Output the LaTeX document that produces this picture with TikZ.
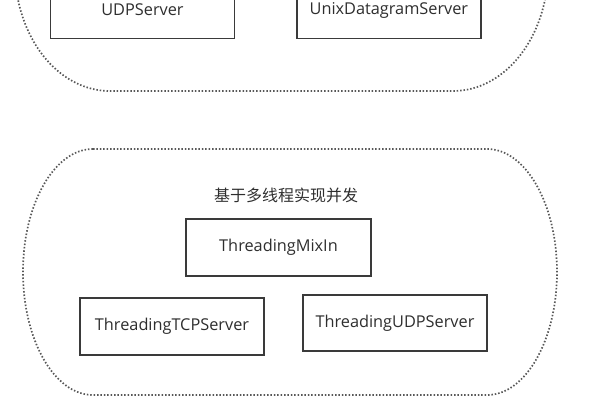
\documentclass[tikz,border=0pt]{standalone}
\usepackage{fontspec}
\setmainfont{Open Sans}
\newfontfamily\cjk{Noto Sans CJK SC}
\usepackage{tikz}
\usetikzlibrary{positioning}

\definecolor{textgray}{HTML}{2E2E2E}
\definecolor{boxgray}{HTML}{3A3A3A}
\definecolor{dotgray}{HTML}{585858}

\begin{document}
\begin{tikzpicture}[x=1pt, y=1pt,
  class node/.style={rectangle, draw=boxgray, line width=1.4pt, fill=white,
    minimum width=184pt, minimum height=57pt, inner sep=0pt,
    text=textgray, font=\fontsize{16.3}{19}\selectfont},
  group line/.style={draw=dotgray, line width=1.7pt, dash pattern=on 1.5pt off 1.9pt}]

\clip (0,0) rectangle (600,400);

% upper group, cut off by the top edge
\draw[group line] (110,553) -- (453,553)
  arc[start angle=90, end angle=-90, x radius=95, y radius=122] -- (110,309)
  arc[start angle=-90, end angle=-270, x radius=95, y radius=122] -- cycle;

\node[class node] (udp) at (142.5,390) {UDPServer};
\node[class node] (unix) [right=61pt of udp] {UnixDatagramServer};

% lower group
\draw[group line] (93,251) -- (487,251)
  arc[start angle=90, end angle=-90, x radius=70, y radius=123] -- (93,5)
  arc[start angle=-90, end angle=-270, x radius=70, y radius=123] -- cycle;

\node[text=textgray, font=\cjk\fontsize{16}{18}\selectfont] (title) at (286,205) {基于多线程实现并发};
\node[class node, minimum width=185pt] (mixin) at (278.5,152.5) {ThreadingMixIn};
\node[class node] (tcp) at (172,73.5) {ThreadingTCPServer};
\node[class node, minimum height=56pt] (tudp) at (395,77) {ThreadingUDPServer};

\end{tikzpicture}
\end{document}
